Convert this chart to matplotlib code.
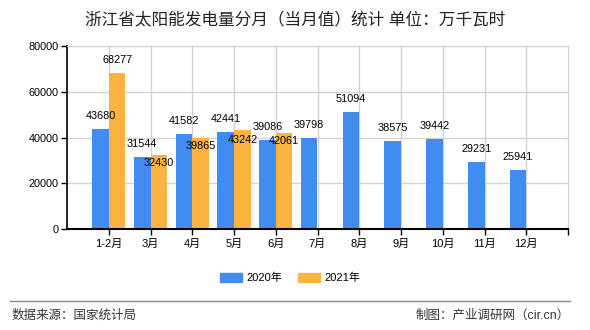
import matplotlib
matplotlib.use("Agg")
import matplotlib.pyplot as plt
from matplotlib.patches import Rectangle
from matplotlib.lines import Line2D
import numpy as np

plt.rcParams['font.family'] = ['Liberation Sans', 'Noto Sans CJK SC', 'DejaVu Sans']

# Monthly solar power generation in Zhejiang (10,000 kWh)
months = ["1-2月", "3月", "4月", "5月", "6月", "7月", "8月", "9月", "10月", "11月", "12月"]
values_2020 = [43680, 31544, 41582, 42441, 39086, 39798, 51094, 38575, 39442, 29231, 25941]
values_2021 = [68277, 32430, 39865, 43242, 42061]
series_names = ["2020年", "2021年"]
yticks = [0, 20000, 40000, 60000, 80000]

# vertical label offsets (px) for the 2021 value labels
label_offset_2021 = [13, -8, -8, -10, -8]

BLUE = "#418CF0"
ORANGE = "#FCB441"

W, H, DPI = 590, 330, 100
fig = plt.figure(figsize=(W / DPI, H / DPI), dpi=DPI)
ax = fig.add_axes([67 / W, 1 - 229 / H, (568 - 67) / W, (229 - 46) / H])

x = np.arange(len(months))
bw = 0.4
ax.bar(x - bw / 2, values_2020, width=bw, color=BLUE, zorder=2, label=series_names[0])
x21 = x[:len(values_2021)]
ax.bar(x21 + bw / 2, values_2021, width=bw, color=ORANGE, zorder=2, label=series_names[1])

ax.set_xlim(-1, len(months))
ax.set_ylim(0, 80000)
ax.set_yticks(yticks)
ax.set_yticklabels([str(v) for v in yticks], fontsize=7.8)
ax.set_xticks(x)
ax.set_xticklabels(months, fontsize=8)
ax.tick_params(axis='y', length=4, width=1, pad=2, colors='black')
ax.tick_params(axis='x', length=4, width=1, pad=3)

# gridlines at category centres and value ticks
ax.grid(True, color="#d3d3d3", linewidth=1, zorder=0)
ax.set_axisbelow(True)
for s in ["top", "right"]:
    ax.spines[s].set_color("#d3d3d3")
ax.spines["left"].set_linewidth(1.2)
ax.spines["bottom"].set_linewidth(1.5)

# tick at right end of x-axis
ax.plot([len(months)], [0], marker=3, markersize=4, color="black", clip_on=False,
        transform=ax.transData, markeredgewidth=1)

for xi, v in zip(x, values_2020):
    ax.annotate(str(v), (xi - bw / 2, v), xytext=(0, 13), textcoords="offset pixels",
                ha="center", va="center", fontsize=7.8, zorder=4)
for xi, v, off in zip(x21, values_2021, label_offset_2021):
    ax.annotate(str(v), (xi + bw / 2, v), xytext=(0, off), textcoords="offset pixels",
                ha="center", va="center", fontsize=7.8, zorder=4)

# title
fig.text(295 / W, 1 - 20 / H, "浙江省太阳能发电量分月（当月值）统计 单位：万千瓦时",
         ha="center", va="center", fontsize=12, color="#222222")

# legend
for (px, col, name) in [(220, BLUE, series_names[0]), (298, ORANGE, series_names[1])]:
    fig.patches.append(Rectangle((px / W, 1 - 282 / H), 22 / W, 9 / H,
                                 transform=fig.transFigure, color=col))
    fig.text((px + 26) / W, 1 - 277.5 / H, name, ha="left", va="center", fontsize=8)

# separator and footer
fig.lines.append(Line2D([10 / W, 570 / W], [1 - 301 / H, 1 - 301 / H],
                        transform=fig.transFigure, color="#888888", linewidth=1))
fig.text(12 / W, 1 - 316 / H, "数据来源：国家统计局", ha="left", va="center",
         fontsize=9, color="#333333")
fig.text(570 / W, 1 - 316 / H, "制图：产业调研网（cir.cn）", ha="right", va="center",
         fontsize=9, color="#333333")

fig.savefig("out.png", dpi=DPI)
